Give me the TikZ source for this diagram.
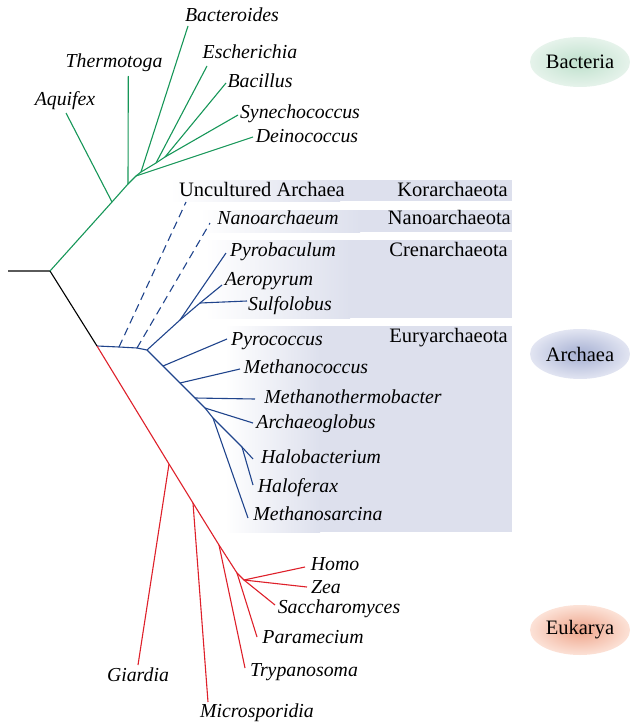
\documentclass[tikz,border=0pt]{standalone}
\usepackage{fontspec}
\setmainfont{Liberation Serif}
\usepackage{tikz}
\usetikzlibrary{shapes.geometric}
\usepackage{xcolor}
\definecolor{bactcol}{RGB}{22,150,88}
\definecolor{archcol}{RGB}{32,68,140}
\definecolor{eukcol}{RGB}{222,32,42}
\definecolor{rootcol}{RGB}{90,90,90}
\definecolor{boxcol}{RGB}{221,224,237}
\definecolor{bactin}{RGB}{190,224,204}
\definecolor{bactout}{RGB}{230,243,235}
\definecolor{archin}{RGB}{165,175,210}
\definecolor{archout}{RGB}{226,229,242}
\definecolor{eukin}{RGB}{238,164,138}
\definecolor{eukout}{RGB}{252,226,215}

\begin{document}
\begin{tikzpicture}[x=1pt, y=-1pt,
    br/.style={line width=1.1pt},
    uncert/.style={line width=1.1pt, dash pattern=on 8pt off 5pt},
    taxon/.style={font=\fontsize{19.8}{22}\selectfont\itshape, anchor=base, inner sep=0pt},
    upright/.style={font=\fontsize{20.5}{22}\selectfont, anchor=base, inner sep=0pt},
    phylum/.style={font=\fontsize{20.5}{22}\selectfont, anchor=base east, inner sep=0pt},
    domainlab/.style={ellipse, minimum width=100pt, minimum height=50pt, inner sep=0pt, font=\fontsize{20.5}{22}\selectfont},
]
\useasboundingbox (0,0) rectangle (632,725);

% phylum boxes
\fill[left color=white, right color=boxcol] (170,180) rectangle (340,201);
\fill[boxcol] (339.5,180) rectangle (512,201);
\fill[left color=white, right color=boxcol] (200,210) rectangle (360,232);
\fill[boxcol] (359.5,210) rectangle (512,232);
\fill[left color=white, right color=boxcol] (205,240) rectangle (350,318);
\fill[boxcol] (349.5,240) rectangle (512,318);
\fill[left color=white, right color=boxcol] (225,326) rectangle (320,532);
\fill[boxcol] (319.5,326) rectangle (512,532);

\node[phylum] (kor) at (508,196) {Korarchaeota};
\node[phylum] (nano) at (511,224) {Nanoarchaeota};
\node[phylum] (cren) at (508,256) {Crenarchaeota};
\node[phylum] (eury) at (508,342) {Euryarchaeota};

% domains
\node[domainlab, inner color=bactin, outer color=bactout] (bacteria) at (580,62) {Bacteria};
\node[domainlab, inner color=archin, outer color=archout] (archaea) at (580,354) {Archaea};
\node[domainlab, inner color=eukin, outer color=eukout] (eukarya) at (580,630) {Eukarya};

% inner nodes
\coordinate (root) at (8,271);
\coordinate (n0) at (50,271);
\coordinate (nb0) at (112,202);
\coordinate (nb1) at (128,184);
\coordinate (nb2) at (136,176);
\coordinate (nb3) at (141,172);
\coordinate (nb4) at (156,163);
\coordinate (nb5) at (165,157);
\coordinate (na0) at (97,346);
\coordinate (na1) at (119,347);
\coordinate (na2) at (137,348);
\coordinate (na3) at (147,350);
\coordinate (nc0) at (180,320);
\coordinate (nc1) at (200,303);
\coordinate (ne1) at (163,366);
\coordinate (ne2) at (180,383);
\coordinate (ne3) at (195,398);
\coordinate (ne4) at (205,408);
\coordinate (ne5) at (213,418);
\coordinate (ne6) at (242,447);
\coordinate (nk1) at (169,464);
\coordinate (nk2) at (193,503);
\coordinate (nk3) at (219,545);
\coordinate (nk4) at (237,573);
\coordinate (nk5) at (244,580);

% branch tips
\coordinate (tAqu) at (66,113);
\coordinate (tThe) at (128.3,76);
\coordinate (tBac) at (188,26);
\coordinate (tEsc) at (207,66);
\coordinate (tBcl) at (226,83);
\coordinate (tSyn) at (238,115);
\coordinate (tDei) at (253,137);
\coordinate (tUnc) at (186,202);
\coordinate (tNan) at (210,223);
\coordinate (tPyb) at (226,253);
\coordinate (tAer) at (222,285);
\coordinate (tSul) at (247,301);
\coordinate (tPyc) at (227,339);
\coordinate (tMcc) at (240,369);
\coordinate (tMth) at (255,399);
\coordinate (tArg) at (253,423);
\coordinate (tHbc) at (253,459);
\coordinate (tHfx) at (253,485);
\coordinate (tMsr) at (248,518);
\coordinate (tHom) at (305,567);
\coordinate (tZea) at (307,587);
\coordinate (tSac) at (275,605);
\coordinate (tPar) at (257,637);
\coordinate (tTry) at (245,668);
\coordinate (tGia) at (138,665);
\coordinate (tMic) at (208,702);

% root
\draw[br, rootcol] (root) -- (n0);
\draw[br, black] (n0) -- (na0);

% bacteria
\draw[br, bactcol] (n0) -- (nb0) -- (nb1) -- (nb2) -- (nb3) -- (nb4) -- (nb5) -- (tSyn);
\draw[br, bactcol] (nb0) -- (tAqu);
\draw[br, bactcol] (nb1) -- (tThe);
\draw[br, bactcol] (nb2) -- (tDei);
\draw[br, bactcol] (nb3) -- (tBac);
\draw[br, bactcol] (nb4) -- (tEsc);
\draw[br, bactcol] (nb5) -- (tBcl);

% archaea
\draw[br, archcol] (na0) -- (na1) -- (na2) -- (na3) -- (nc0) -- (tPyb);
\draw[uncert, archcol] (na1) -- (tUnc);
\draw[uncert, archcol] (na2) -- (tNan);
\draw[br, archcol] (nc0) -- (nc1) -- (tAer);
\draw[br, archcol] (nc1) -- (tSul);
\draw[br, archcol] (na3) -- (ne1) -- (ne2) -- (ne3) -- (ne4) -- (ne5) -- (tMsr);
\draw[br, archcol] (ne1) -- (tPyc);
\draw[br, archcol] (ne2) -- (tMcc);
\draw[br, archcol] (ne3) -- (tMth);
\draw[br, archcol] (ne4) -- (tArg);
\draw[br, archcol] (ne5) -- (ne6) -- (tHbc);
\draw[br, archcol] (ne6) -- (tHfx);

% eukarya
\draw[br, eukcol] (na0) -- (nk1) -- (nk2) -- (nk3) -- (nk4) -- (nk5) -- (tZea);
\draw[br, eukcol] (nk1) -- (tGia);
\draw[br, eukcol] (nk2) -- (tMic);
\draw[br, eukcol] (nk3) -- (tTry);
\draw[br, eukcol] (nk4) -- (tPar);
\draw[br, eukcol] (nk5) -- (tHom);
\draw[br, eukcol] (nk5) -- (tSac);

% labels
\node[taxon] (aquifex) at (65,105) {Aquifex};
\node[taxon] (thermotoga) at (114,67) {Thermotoga};
\node[taxon] (bacteroides) at (232,22) {Bacteroides};
\node[taxon] (escherichia) at (250,59) {Escherichia};
\node[taxon] (bacillus) at (260,87) {Bacillus};
\node[taxon] (synechococcus) at (300,118) {Synechococcus};
\node[taxon] (deinococcus) at (307,142) {Deinococcus};
\node[upright] (uncultured) at (262,196) {Uncultured Archaea};
\node[taxon] (nanoarchaeum) at (278,224) {Nanoarchaeum};
\node[taxon] (pyrobaculum) at (283,256) {Pyrobaculum};
\node[taxon] (aeropyrum) at (269,285) {Aeropyrum};
\node[taxon] (sulfolobus) at (290,310) {Sulfolobus};
\node[taxon] (pyrococcus) at (277,345) {Pyrococcus};
\node[taxon] (methanococcus) at (306,373) {Methanococcus};
\node[taxon] (methanothermobacter) at (353,403) {Methanothermobacter};
\node[taxon] (archaeoglobus) at (316,428) {Archaeoglobus};
\node[taxon] (halobacterium) at (321,463) {Halobacterium};
\node[taxon] (haloferax) at (298,492) {Haloferax};
\node[taxon] (methanosarcina) at (318,520) {Methanosarcina};
\node[taxon] (homo) at (335,570) {Homo};
\node[taxon] (zea) at (326,593) {Zea};
\node[taxon] (saccharomyces) at (339,613) {Saccharomyces};
\node[taxon] (paramecium) at (313,643) {Paramecium};
\node[taxon] (trypanosoma) at (304,676) {Trypanosoma};
\node[taxon] (giardia) at (138,681) {Giardia};
\node[taxon] (microsporidia) at (257,717) {Microsporidia};
\end{tikzpicture}
\end{document}
